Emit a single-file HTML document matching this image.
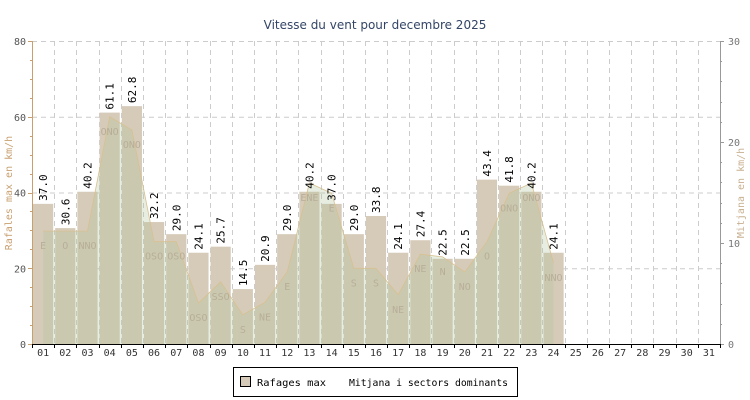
<!DOCTYPE html>
<html><head><meta charset="utf-8"><style>
body{margin:0;background:#fff;}
svg{display:block;font-family:"DejaVu Sans Mono","Liberation Mono",monospace;}
</style></head><body>
<svg width="750" height="400" viewBox="0 0 750 400" xmlns="http://www.w3.org/2000/svg">
<rect width="750" height="400" fill="#fff"/>
<text x="375" y="29" text-anchor="middle" font-size="12" fill="#334466" font-family="DejaVu Sans, Liberation Sans, sans-serif">Vitesse du vent pour decembre 2025</text>
<g id="grid" stroke="#cccccc" stroke-dasharray="5,4" stroke-width="1"></g>
<g id="bars"></g>
<g id="area"></g>
<g id="labels"></g>
<g id="axes"></g>
<text transform="translate(12,193) rotate(-90)" text-anchor="middle" font-size="10" fill="#c8a070">Rafales max en km/h</text>
<text transform="translate(744,193) rotate(-90)" text-anchor="middle" font-size="10" fill="#c8b090">Mitjana en km/h</text>
<rect x="233.5" y="367.5" width="284" height="29" fill="#fff" stroke="#000"/>
<rect x="240.5" y="376.5" width="10" height="10" fill="#d6cbb9" stroke="#000"/>
<text x="257" y="386" font-size="10" fill="#000" textLength="69" lengthAdjust="spacingAndGlyphs">Rafages max</text>
<text x="349" y="386" font-size="10" fill="#000" textLength="159" lengthAdjust="spacingAndGlyphs">Mitjana i sectors dominants</text>
</svg>
<script>
const NS="http://www.w3.org/2000/svg";
function el(p,t,a,txt){const e=document.createElementNS(NS,t);for(const k in a)e.setAttribute(k,a[k]);if(txt!==undefined)e.textContent=txt;document.getElementById(p).appendChild(e);return e;}
const L=32,R=720,T=41,B=344,sw=(R-L)/31;
const y=v=>B-v*(B-T)/80;
for(let v=20;v<=80;v+=20)el("grid","line",{x1:L,x2:R,y1:y(v)+.5,y2:y(v)+.5});
for(let i=1;i<31;i++){const x=Math.round(L+i*sw)+.5;el("grid","line",{x1:x,x2:x,y1:T,y2:B});}
const g=[37.0,30.6,40.2,61.1,62.8,32.2,29.0,24.1,25.7,14.5,20.9,29.0,40.2,37.0,29.0,33.8,24.1,27.4,22.5,22.5,43.4,41.8,40.2,24.1];
const m=[29.8,29.8,29.8,60,56.5,27,27,10.8,16.4,7.7,11,19,42.5,39.8,20,20,13,23.7,23,19,27,39.8,42.5,21.4];
const s=["E","O","NNO","ONO","ONO","OSO","OSO","OSO","SSO","S","NE","E","ENE","E","S","S","NE","NE","N","NO","O","ONO","ONO","NNO"];
g.forEach((v,i)=>{const x=L+i*sw+1;el("bars","rect",{x:x,y:y(v),width:sw-2,height:B-y(v),fill:"#d6cbb9"});});
let pts=[];m.forEach((v,i)=>pts.push((L+(i+.5)*sw).toFixed(1)+","+y(v).toFixed(1)));
const cx0=L+.5*sw,cx1=L+23.5*sw;
el("area","polygon",{points:cx0+","+B+" "+pts.join(" ")+" "+cx1+","+B,fill:"rgba(175,200,155,0.3)"});
el("area","polyline",{points:pts.join(" "),fill:"none",stroke:"#d8c090","stroke-width":"0.8"});
g.forEach((v,i)=>{const cx=L+(i+.5)*sw;
 el("labels","text",{transform:`translate(${cx+4},${y(v)-3}) rotate(-90)`,"font-size":"11",fill:"#000"},v.toFixed(1));
 el("labels","text",{x:cx,y:Math.min(y(m[i])+18,340),"text-anchor":"middle","font-size":"10",fill:"#b8ad98"},s[i]);
});
el("axes","line",{x1:L+.5,x2:L+.5,y1:T,y2:B,stroke:"#c8a070"});
el("axes","line",{x1:R+.5,x2:R+.5,y1:T,y2:B,stroke:"#999"});
el("axes","line",{x1:L,x2:R+1,y1:B+.5,y2:B+.5,stroke:"#000"});
for(let v=0;v<=80;v+=5){const yy=Math.round(y(v))+.5;el("axes","line",{x1:L-(v%20?2:4),x2:L,y1:yy,y2:yy,stroke:"#c8a070"});}
for(let v=0;v<=80;v+=20)el("axes","text",{x:L-6,y:y(v)+4,"text-anchor":"end","font-size":"10",fill:"#555"},v);
for(let v=0;v<=30;v+=2){const yy=Math.round(B-v*(B-T)/30)+.5;el("axes","line",{x1:R,x2:R+(v%10?2:4),y1:yy,y2:yy,stroke:"#999"});}
for(let v=0;v<=30;v+=10)el("axes","text",{x:R+8,y:B-v*(B-T)/30+4,"font-size":"10",fill:"#777"},v);
for(let i=0;i<=31;i++){const x=Math.round(L+i*sw)+.5;el("axes","line",{x1:x,x2:x,y1:B,y2:B+4,stroke:"#000"});}
for(let i=0;i<31;i++)el("axes","text",{x:L+(i+.5)*sw,y:B+12,"text-anchor":"middle","font-size":"10",fill:"#333"},String(i+1).padStart(2,"0"));
</script>
</body></html>
